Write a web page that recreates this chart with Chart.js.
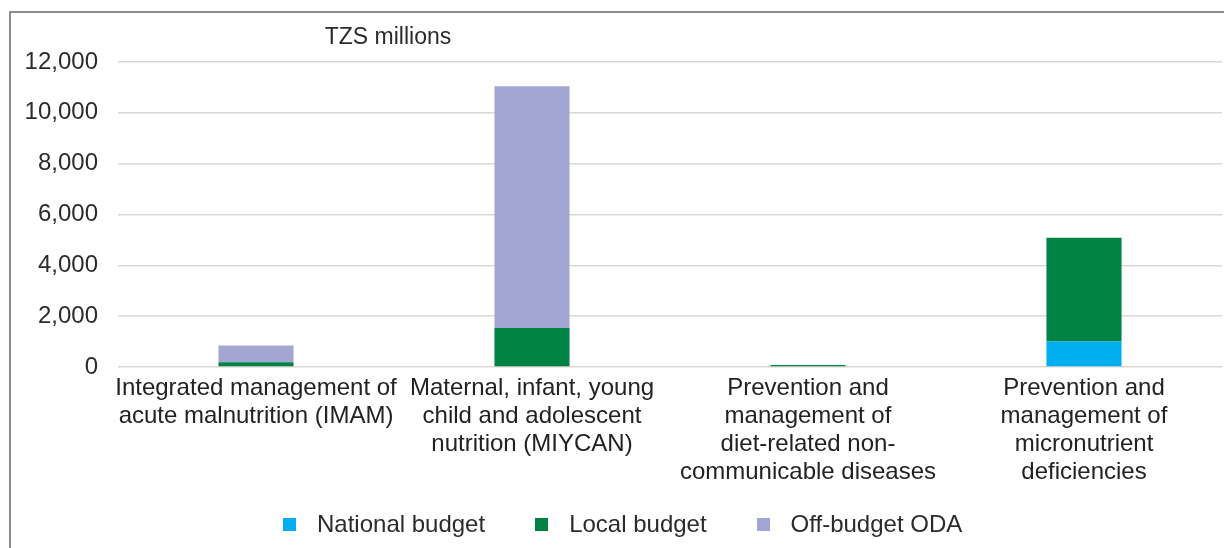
<!DOCTYPE html>
<html>
<head>
<meta charset="utf-8">
<script src="https://cdn.jsdelivr.net/npm/chart.js@4.4.1/dist/chart.umd.min.js"></script>
<style>
    html, body { margin: 0; padding: 0; background: #fff; overflow: hidden; }
    #wrap { position: relative; width: 1224px; height: 548px; }
    #frame {
        position: absolute; left: 9px; top: 11px; width: 1300px; height: 600px;
        border-left: 2px solid #8c8c8c; border-top: 2px solid #8c8c8c;
    }
    #budgetChart { position: absolute; left: 0; top: 0; }
    #legend {
        position: absolute; left: 0; top: 510px; width: 1224px;
        font-family: "Liberation Sans", Arial, sans-serif; font-size: 24px; color: #2b2b2b;
        display: flex; justify-content: flex-start; padding-left: 258px; box-sizing: border-box;
    }
    #legend .item { display: flex; align-items: center; margin: 0 25px; }
    #legend .box { width: 13px; height: 13px; margin-right: 21px; }
</style>
</head>
<body>
<div id="wrap">
    <div id="frame"></div>
    <canvas id="budgetChart" width="1224" height="548"></canvas>
    <div id="legend"></div>
</div>
<script>
const categories = [
    ['Integrated management of', 'acute malnutrition (IMAM)'],
    ['Maternal, infant, young', 'child and adolescent', 'nutrition (MIYCAN)'],
    ['Prevention and', 'management of', 'diet-related non-', 'communicable diseases'],
    ['Prevention and', 'management of', 'micronutrient', 'deficiencies']
];
const nationalBudget = [0, 0, 0, 1000];
const localBudget = [185, 1530, 80, 4090];
const offBudgetODA = [665, 9520, 0, 0];
const yTicks = [0, 2000, 4000, 6000, 8000, 10000, 12000];

const seriesColors = ['#00aeef', '#008244', '#a3a6d2'];
const fontFamily = '"Liberation Sans", Arial, sans-serif';

// unit label above the plot
const unitLabel = {
    id: 'unitLabel',
    afterDraw(chart) {
        const { ctx, chartArea } = chart;
        ctx.save();
        ctx.font = '23px ' + fontFamily;
        ctx.fillStyle = '#2b2b2b';
        ctx.textAlign = 'center';
        ctx.textBaseline = 'middle';
        ctx.fillText('TZS millions', chartArea.left + 270, chartArea.top - 24);
        ctx.restore();
    }
};

const ctx = document.getElementById('budgetChart').getContext('2d');

const chart = new Chart(ctx, {
    type: 'bar',
    data: {
        labels: categories,
        datasets: [
            { label: 'National budget', data: nationalBudget, backgroundColor: seriesColors[0] },
            { label: 'Local budget', data: localBudget, backgroundColor: seriesColors[1] },
            { label: 'Off-budget ODA', data: offBudgetODA, backgroundColor: seriesColors[2] }
        ]
    },
    options: {
        responsive: false,
        animation: false,
        layout: { padding: { top: 62, right: 2, bottom: 61, left: 0 } },
        datasets: {
            bar: { barPercentage: 0.272, categoryPercentage: 1, borderWidth: 0 }
        },
        scales: {
            x: {
                stacked: true,
                grid: { display: false, drawTicks: false },
                border: { display: false },
                ticks: {
                    color: '#222',
                    font: { family: fontFamily, size: 24, lineHeight: 1.17 },
                    padding: 7,
                    maxRotation: 0,
                    autoSkip: false
                },
                afterFit(scale) { scale.height = 120; }
            },
            y: {
                stacked: true,
                min: 0,
                max: 12000,
                afterBuildTicks(scale) {
                    scale.ticks = yTicks.map(v => ({ value: v }));
                },
                grid: { color: '#dcd7d2', lineWidth: 1.6, drawTicks: false },
                border: { display: false },
                ticks: {
                    color: '#2b2b2b',
                    font: { family: fontFamily, size: 24 },
                    padding: 20,
                    callback: v => v.toLocaleString('en-US')
                },
                afterFit(scale) { scale.width = 118; }
            }
        },
        plugins: {
            legend: { display: false },
            tooltip: { enabled: false }
        }
    },
    plugins: [unitLabel]
});

// legend built from the datasets
const legendEl = document.getElementById('legend');
chart.data.datasets.forEach(ds => {
    const item = document.createElement('div');
    item.className = 'item';
    const box = document.createElement('span');
    box.className = 'box';
    box.style.background = ds.backgroundColor;
    const text = document.createElement('span');
    text.textContent = ds.label;
    item.appendChild(box);
    item.appendChild(text);
    legendEl.appendChild(item);
});
</script>
</body>
</html>
